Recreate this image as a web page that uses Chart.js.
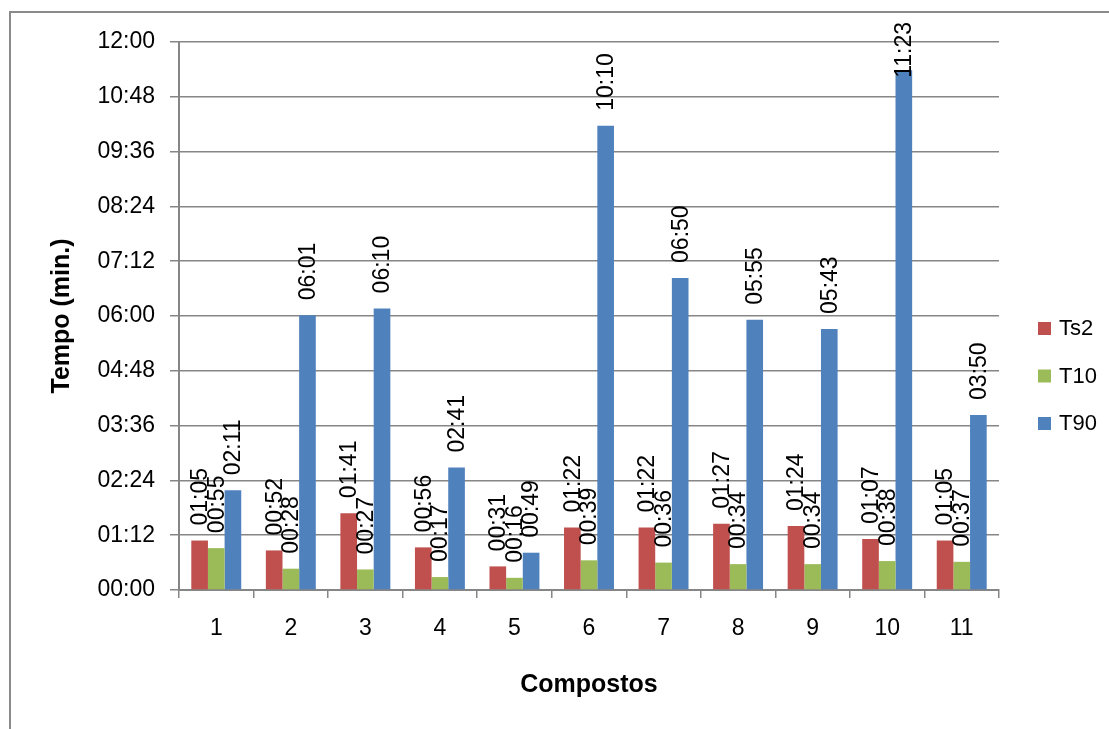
<!DOCTYPE html>
<html>
<head>
<meta charset="utf-8">
<style>
  body { margin: 0; background: #fff; overflow: hidden; }
  #frame { position: absolute; left: 9px; top: 11px; width: 1200px; height: 800px;
           border-left: 2px solid #8a8a8a; border-top: 2px solid #8a8a8a; }
  #myChart { position: absolute; left: 0; top: 0; }
</style>
</head>
<body>
<div id="frame"></div>
<canvas id="myChart" width="1109" height="729"></canvas>
<script src="https://cdn.jsdelivr.net/npm/chart.js"></script>
<script>
  // compounds and times (seconds)
  const compostos = ["1", "2", "3", "4", "5", "6", "7", "8", "9", "10", "11"];
  const ts2 = [65, 52, 101, 56, 31, 82, 82, 87, 84, 67, 65];
  const t10 = [55, 28, 27, 17, 16, 39, 36, 34, 34, 38, 37];
  const t90 = [131, 361, 370, 161, 49, 610, 410, 355, 343, 683, 230];
  const yTicks = [0, 72, 144, 216, 288, 360, 432, 504, 576, 648, 720];

  const FONT = "Liberation Sans";

  function mmss(v) {
    const m = Math.floor(v / 60);
    const s = Math.round(v % 60);
    return String(m).padStart(2, "0") + ":" + String(s).padStart(2, "0");
  }

  const barLabels = {
    id: "barLabels",
    afterDatasetsDraw: (chart) => {
      const { ctx } = chart;
      ctx.save();
      ctx.font = `23px "${FONT}"`;
      ctx.fillStyle = "#000";
      ctx.textAlign = "left";
      ctx.textBaseline = "middle";
      chart.data.datasets.forEach((ds, i) => {
        chart.getDatasetMeta(i).data.forEach((bar, j) => {
          const txt = mmss(ds.data[j]);
          const w = ctx.measureText(txt).width;
          let y = bar.y - 15;
          if (y - w < 22) y = 22 + w;
          ctx.save();
          ctx.translate(bar.x, y);
          ctx.rotate(-Math.PI / 2);
          ctx.fillText(txt, 0, 1);
          ctx.restore();
        });
      });
      ctx.restore();
    },
  };

  const sideLegend = {
    id: "sideLegend",
    afterDraw: (chart) => {
      const { ctx } = chart;
      ctx.save();
      ctx.font = `22px "${FONT}"`;
      ctx.textBaseline = "middle";
      ctx.textAlign = "left";
      chart.data.datasets.forEach((ds, i) => {
        const y = 328 + i * 47.5;
        ctx.fillStyle = ds.backgroundColor;
        ctx.fillRect(1038, y - 6, 13, 13);
        ctx.fillStyle = "#000";
        ctx.fillText(ds.label, 1059, y + 1);
      });
      ctx.restore();
    },
  };

  new Chart(document.getElementById("myChart"), {
    type: "bar",
    data: {
      labels: compostos,
      datasets: [
        { label: "Ts2", data: ts2, backgroundColor: "#C0504D" },
        { label: "T10", data: t10, backgroundColor: "#9BBB59" },
        { label: "T90", data: t90, backgroundColor: "#4F81BD" },
      ],
    },
    options: {
      responsive: false,
      animation: false,
      layout: { padding: { top: 42, right: 110, left: 0, bottom: 0 } },
      datasets: { bar: { categoryPercentage: 0.67, barPercentage: 1.0 } },
      plugins: { legend: { display: false }, tooltip: { enabled: false } },
      scales: {
        x: {
          afterFit: (scale) => { scale.height = 139; },
          grid: { drawOnChartArea: false, tickLength: 8, color: "#868686", lineWidth: 1.5, offset: true },
          border: { color: "#868686", width: 2 },
          ticks: { color: "#000", font: { family: FONT, size: 23 }, padding: 17 },
          title: {
            display: true, text: "Compostos", color: "#000",
            font: { family: FONT, size: 25, weight: "bold" },
            padding: { top: 0, bottom: 29 },
          },
        },
        y: {
          min: 0,
          max: 720,
          afterFit: (scale) => { scale.width = 179; },
          afterBuildTicks: (scale) => { scale.ticks = yTicks.map((v) => ({ value: v })); },
          grid: { color: "#868686", lineWidth: 1.5, tickLength: 9 },
          border: { color: "#868686", width: 2 },
          ticks: { color: "#000", font: { family: FONT, size: 23 }, padding: 15, callback: (v) => mmss(v) },
          title: {
            display: true, text: "Tempo (min.)", color: "#000",
            font: { family: FONT, size: 25, weight: "bold" },
            padding: { top: 47, bottom: 0 },
          },
        },
      },
    },
    plugins: [barLabels, sideLegend],
  });
</script>
</body>
</html>
